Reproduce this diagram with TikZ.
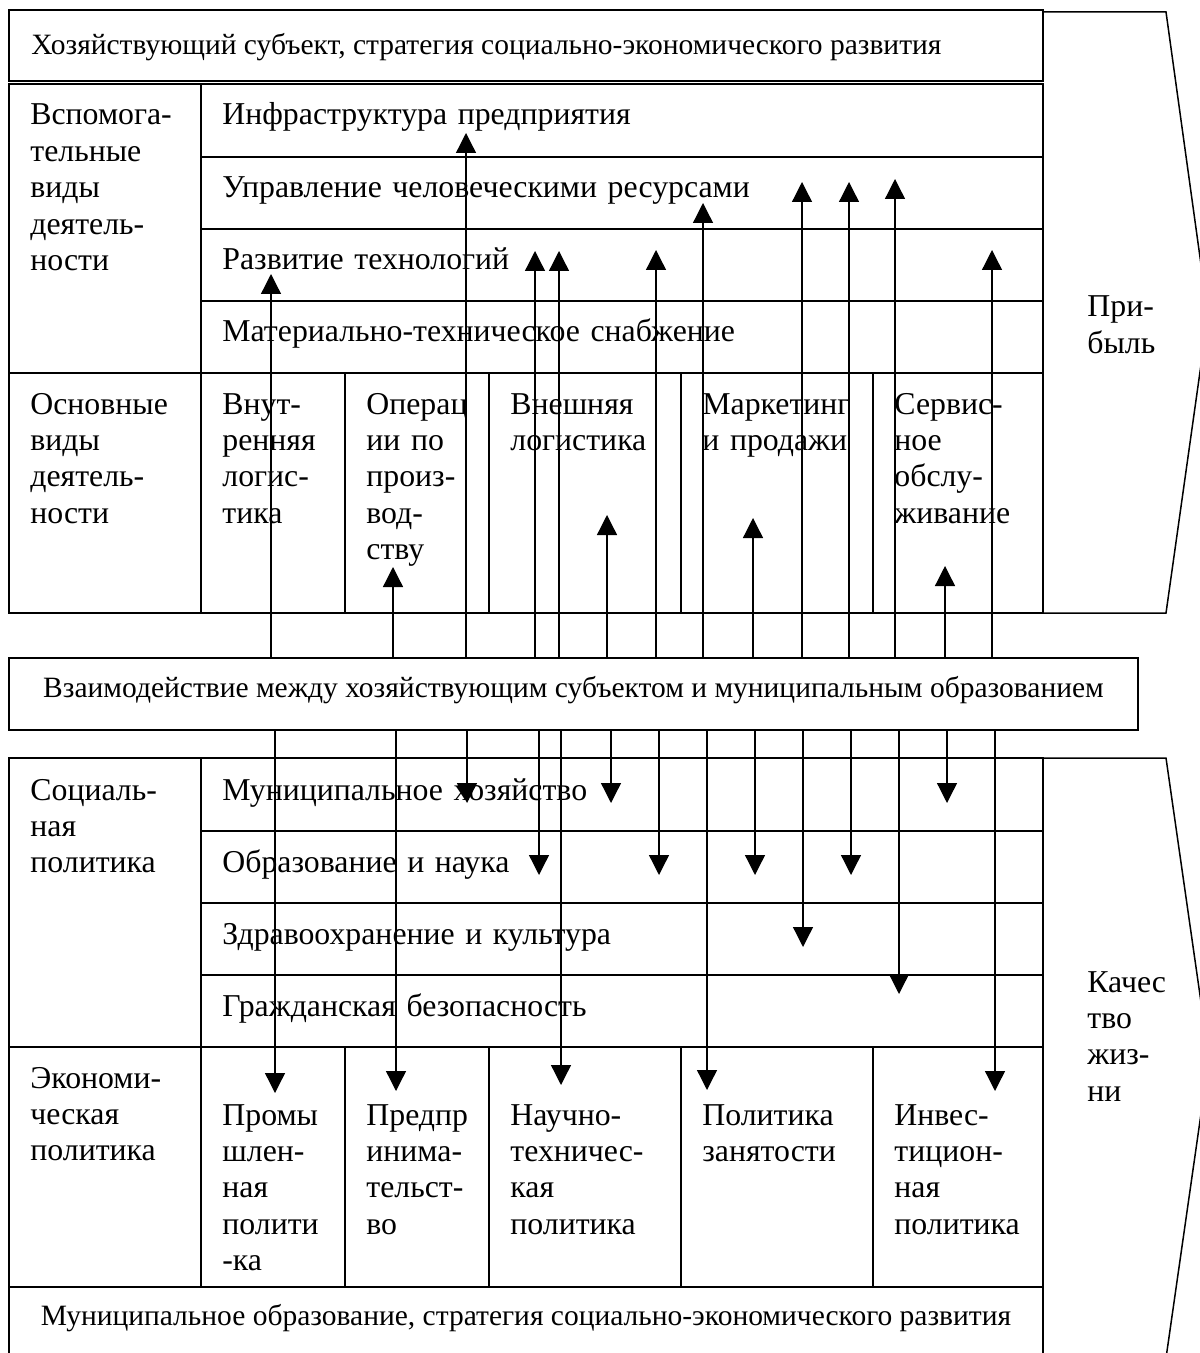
\documentclass[tikz,border=0pt]{standalone}
\usepackage{fontspec}
\setmainfont{Liberation Serif}
\usetikzlibrary{arrows.meta}

\begin{document}
\begin{tikzpicture}[x=0.5pt, y=-0.5pt,
        every node/.style={inner sep=0pt, font=\fontsize{15.9}{18.2}\selectfont},
        cell/.style={anchor=base west, text width=400pt, align=left},
        boxtext/.style={font=\fontsize{14.75}{17}\selectfont},
        frame/.style={line width=0.75pt},
        arr/.style={line width=0.65pt, -{Triangle[width=10pt, length=10pt]}}]
        \useasboundingbox (0,0) rectangle (1199,1353);

        \draw[frame] (9,10) rectangle (1043,81);
        \node[boxtext, anchor=base west] (n00) at (31,55) {Хозяйствующий субъект, стратегия социально-экономического развития};

        \draw[frame] (9,84) rectangle (1043,613);
        \draw[frame] (201,84) -- (201,613);
        \draw[frame] (201,157) -- (1043,157);
        \draw[frame] (201,229) -- (1043,229);
        \draw[frame] (201,301) -- (1043,301);
        \draw[frame] (9,373) -- (1043,373);
        \draw[frame] (345,373) -- (345,613);
        \draw[frame] (489,373) -- (489,613);
        \draw[frame] (681,373) -- (681,613);
        \draw[frame] (873,373) -- (873,613);
        \draw[frame] (1043,12) -- (1166,12) -- (1208,315) -- (1166,613) -- (1043,613);

        \node[cell] (n10) at (30,125) {Вспомога-\\тельные\\виды\\деятель-\\ности};
        \node[cell] (n11) at (222,125) {Инфраструктура предприятия};
        \node[cell] (n12) at (222,198) {Управление человеческими ресурсами};
        \node[cell] (n13) at (222,270) {Развитие технологий};
        \node[cell] (n14) at (222,342) {Материально-техническое снабжение};
        \node[cell] (n20) at (30,414) {Основные\\виды\\деятель-\\ности};
        \node[cell] (n21) at (222,414) {Внут-\\ренняя\\логис-\\тика};
        \node[cell] (n22) at (366,414) {Операц\\ии по\\произ-\\вод-\\ству};
        \node[cell] (n23) at (510,414) {Внешняя\\логистика};
        \node[cell] (n24) at (702,414) {Маркетинг\\и продажи};
        \node[cell] (n25) at (894,414) {Сервис-\\ное\\обслу-\\живание};
        \node[cell] (np) at (1087,317) {При-\\быль};

        \node[draw, boxtext, line width=0.75pt, minimum width=564.5pt, minimum height=36pt,
            text height=8pt, text depth=5pt] (inter) at (573.5,694)
            {Взаимодействие между хозяйствующим субъектом и муниципальным образованием};

        \draw[frame] (9,758) rectangle (1043,1287);
        \draw[frame] (201,758) -- (201,1287);
        \draw[frame] (201,831) -- (1043,831);
        \draw[frame] (201,903) -- (1043,903);
        \draw[frame] (201,975) -- (1043,975);
        \draw[frame] (9,1047) -- (1043,1047);
        \draw[frame] (345,1047) -- (345,1287);
        \draw[frame] (489,1047) -- (489,1287);
        \draw[frame] (681,1047) -- (681,1287);
        \draw[frame] (873,1047) -- (873,1287);
        \draw[frame] (9,1287) rectangle (1043,1358);
        \draw[frame] (1043,758) -- (1166,758) -- (1209,1058) -- (1166,1358) -- (1043,1358);

        \node[cell] (n30) at (30,800) {Социаль-\\ная\\политика};
        \node[cell] (n31) at (222,800) {Муниципальное хозяйство};
        \node[cell] (n32) at (222,872) {Образование и наука};
        \node[cell] (n33) at (222,944) {Здравоохранение и культура};
        \node[cell] (n34) at (222,1016) {Гражданская безопасность};
        \node[cell] (n40) at (30,1088) {Экономи-\\ческая\\политика};
        \node[cell] (n41) at (222,1125) {Промы\\шлен-\\ная\\полити\\-ка};
        \node[cell] (n42) at (366,1125) {Предпр\\инима-\\тельст-\\во};
        \node[cell] (n43) at (510,1125) {Научно-\\техничес-\\кая\\политика};
        \node[cell] (n44) at (702,1125) {Политика\\занятости};
        \node[cell] (n45) at (894,1125) {Инвес-\\тицион-\\ная\\политика};
        \node[cell] (nk) at (1087,992) {Качес\\тво\\жиз-\\ни};
        \node[boxtext, anchor=base] (n50) at (526,1325) {Муниципальное образование, стратегия социально-экономического развития};

        \coordinate (u1) at (271,274);
        \coordinate (u2) at (393,567);
        \coordinate (u3) at (466,133);
        \coordinate (u4) at (535,251);
        \coordinate (u5) at (559,251);
        \coordinate (u6) at (607,515);
        \coordinate (u7) at (656,250);
        \coordinate (u8) at (703,203);
        \coordinate (u9) at (753,518);
        \coordinate (u10) at (802,182);
        \coordinate (u11) at (849,182);
        \coordinate (u12) at (895,179);
        \coordinate (u13) at (945,566);
        \coordinate (u14) at (992,250);

        \draw[arr] (inter.north -| u1) -- (u1);
        \draw[arr] (inter.north -| u2) -- (u2);
        \draw[arr] (inter.north -| u3) -- (u3);
        \draw[arr] (inter.north -| u4) -- (u4);
        \draw[arr] (inter.north -| u5) -- (u5);
        \draw[arr] (inter.north -| u6) -- (u6);
        \draw[arr] (inter.north -| u7) -- (u7);
        \draw[arr] (inter.north -| u8) -- (u8);
        \draw[arr] (inter.north -| u9) -- (u9);
        \draw[arr] (inter.north -| u10) -- (u10);
        \draw[arr] (inter.north -| u11) -- (u11);
        \draw[arr] (inter.north -| u12) -- (u12);
        \draw[arr] (inter.north -| u13) -- (u13);
        \draw[arr] (inter.north -| u14) -- (u14);

        \coordinate (d1) at (275,1093);
        \coordinate (d2) at (396,1091);
        \coordinate (d3) at (467,803);
        \coordinate (d4) at (539,875);
        \coordinate (d5) at (561,1085);
        \coordinate (d6) at (611,803);
        \coordinate (d7) at (659,875);
        \coordinate (d8) at (707,1090);
        \coordinate (d9) at (755,875);
        \coordinate (d10) at (803,947);
        \coordinate (d11) at (851,875);
        \coordinate (d12) at (899,994);
        \coordinate (d13) at (947,803);
        \coordinate (d14) at (995,1091);

        \draw[arr] (inter.south -| d1) -- (d1);
        \draw[arr] (inter.south -| d2) -- (d2);
        \draw[arr] (inter.south -| d3) -- (d3);
        \draw[arr] (inter.south -| d4) -- (d4);
        \draw[arr] (inter.south -| d5) -- (d5);
        \draw[arr] (inter.south -| d6) -- (d6);
        \draw[arr] (inter.south -| d7) -- (d7);
        \draw[arr] (inter.south -| d8) -- (d8);
        \draw[arr] (inter.south -| d9) -- (d9);
        \draw[arr] (inter.south -| d10) -- (d10);
        \draw[arr] (inter.south -| d11) -- (d11);
        \draw[arr] (inter.south -| d12) -- (d12);
        \draw[arr] (inter.south -| d13) -- (d13);
        \draw[arr] (inter.south -| d14) -- (d14);
    \end{tikzpicture}
\end{document}
